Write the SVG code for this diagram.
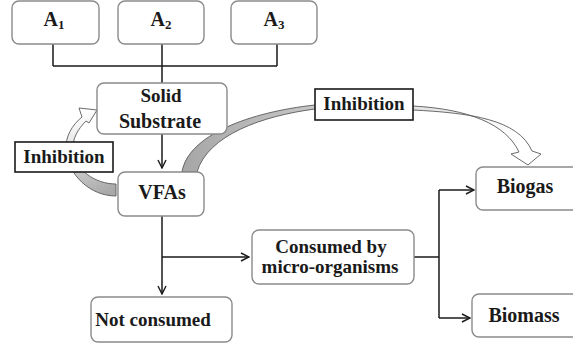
<svg xmlns="http://www.w3.org/2000/svg" width="573" height="349" viewBox="0 0 573 349">
<style>
.box{fill:#fff;stroke:#8a8a8a;stroke-width:1.4}
.ibox{fill:#fff;stroke:#1a1a1a;stroke-width:1.6}
.ln{fill:none;stroke:#1a1a1a;stroke-width:1.5}
.band{stroke:#5a5a5a;stroke-width:0.9}
</style>
<defs>
<marker id="ah" viewBox="0 0 10 10" refX="9" refY="5" markerWidth="10" markerHeight="10" markerUnits="userSpaceOnUse" orient="auto">
<path d="M1 1 L9 5 L1 9" fill="none" stroke="#1a1a1a" stroke-width="1.4"/>
</marker>
<linearGradient id="gR" gradientUnits="userSpaceOnUse" x1="190" y1="172" x2="520" y2="150">
<stop offset="0" stop-color="#a8a8a8"/>
<stop offset="0.5" stop-color="#d0d0d0"/>
<stop offset="1" stop-color="#ffffff"/>
</linearGradient>
<linearGradient id="gL" gradientUnits="userSpaceOnUse" x1="116" y1="190" x2="85" y2="112">
<stop offset="0" stop-color="#a8a8a8"/>
<stop offset="1" stop-color="#ffffff"/>
</linearGradient>
</defs>

<g id="arrows-inhibition">
<path class="band" fill="url(#gR)" d="M182 172 C188 135 250 112 315 105 L413 106 C468 109 506 124 519 152 L511 154 L528 165 L541 154 L532 151 C518 119 470 113 413 110 L315 109 C262 116 208 135 197 172 Z"/>
<path class="band" fill="url(#gL)" d="M116 196 C90 196 68 175 66 150 C65 137 72 125 82 117 L79 108 L97 110 L89 123 L86 121 C78 129 72 139 73 150 C75 170 95 184 116 184 Z"/>
</g>

<g id="connectors">
<path class="ln" d="M53 44 V66 M162 44 V83 M277 44 V66 M53 66 H277"/>
<path class="ln" d="M162 134 V168" marker-end="url(#ah)"/>
<path class="ln" d="M162 216 V294" marker-end="url(#ah)"/>
<path class="ln" d="M162 257 H249" marker-end="url(#ah)"/>
<path class="ln" d="M414 257 H439 M439 190 V318"/>
<path class="ln" d="M439 190 H474" marker-end="url(#ah)"/>
<path class="ln" d="M439 318 H470" marker-end="url(#ah)"/>
</g>

<g font-family="Liberation Serif" font-weight="700" font-size="19" fill="#1a1a1a" text-anchor="middle">
<g id="A1"><rect class="box" x="12" y="1" width="87" height="43" rx="7"/><text x="54" y="26" font-size="20">A<tspan font-size="13" dy="3">1</tspan></text></g>
<g id="A2"><rect class="box" x="118" y="1" width="86" height="43" rx="7"/><text x="161" y="26" font-size="20">A<tspan font-size="13" dy="3">2</tspan></text></g>
<g id="A3"><rect class="box" x="231" y="1" width="86" height="43" rx="7"/><text x="274" y="26" font-size="20">A<tspan font-size="13" dy="3">3</tspan></text></g>

<g id="solid-substrate"><rect class="box" x="97" y="83" width="130" height="51" rx="7"/><text x="161" y="102">Solid</text><text x="160" y="128" font-size="20">Substrate</text></g>

<g id="vfas"><rect class="box" x="118" y="172" width="86" height="44" rx="7"/><text x="162" y="199" font-size="20">VFAs</text></g>

<g id="inhibition-left"><rect class="ibox" x="15" y="142" width="98" height="30"/><text x="64" y="163">Inhibition</text></g>

<g id="inhibition-top"><rect class="ibox" x="315" y="89" width="98" height="31"/><text x="364" y="110">Inhibition</text></g>

<g id="consumed"><rect class="box" x="252" y="230" width="162" height="54" rx="7"/><text x="331" y="253">Consumed by</text><text x="330" y="273">micro-organisms</text></g>

<g id="not-consumed"><rect class="box" x="91" y="297" width="141" height="45" rx="7"/><text x="153" y="326">Not consumed</text></g>

<g id="biogas"><rect class="box" x="476" y="167" width="110" height="43" rx="7"/><text x="525" y="193" font-size="20">Biogas</text></g>

<g id="biomass"><rect class="box" x="472" y="294" width="110" height="43" rx="7"/><text x="524" y="322" font-size="20">Biomass</text></g>
</g>
</svg>
